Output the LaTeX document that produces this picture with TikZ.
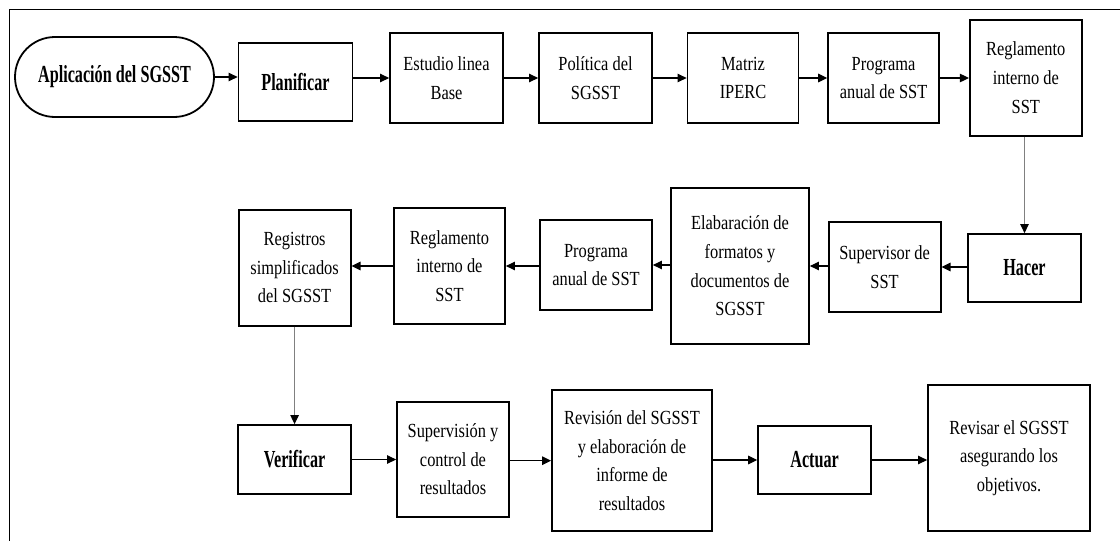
\documentclass[tikz,border=0pt]{standalone}
\usepackage{fontspec}
\setmainfont{Liberation Serif}[FakeStretch=0.82]
\newfontfamily\bcond{Liberation Serif}[FakeStretch=0.66]
\usetikzlibrary{arrows.meta,shapes.misc}
\tikzset{
  box/.style={draw=black, line width=1.8pt, rectangle, inner sep=0pt, align=center,
    font=\fontsize{20}{28.6}\selectfont},
  bbox/.style={box, font=\fontsize{24.5}{30}\selectfont\bcond\bfseries},
  conn/.style={line width=1.1pt, draw=black, -{Triangle[length=9pt,width=8.5pt]}},
  vconn/.style={line width=1.1pt, draw=gray, -{Triangle[length=9pt,width=8.5pt,color=black]}},
  frame/.style={line width=1.5pt, draw=black}
}
\begin{document}
\begin{tikzpicture}[x=1pt,y=-1pt]
\useasboundingbox (0,0) rectangle (1120,541);
\coordinate (f1) at (9.6,541);
\coordinate (f2) at (9.6,9.6);
\coordinate (f3) at (1120,9.6);
\draw[frame] (f1) -- (f2) -- (f3);
% row 1
\node[bbox, rounded rectangle, minimum width=199pt, minimum height=80pt] (app) at (114.5,77) {Aplicación del SGSST};
\node[bbox, minimum width=114pt, minimum height=78pt] (plan) at (295.5,82) {Planificar};
\node[box, minimum width=113pt, minimum height=90pt] (est) at (446.5,78) {Estudio linea\\Base};
\node[box, minimum width=113pt, minimum height=90pt] (pol) at (595.5,78) {Política del\\SGSST};
\node[box, minimum width=111pt, minimum height=90pt] (mat) at (743,78) {Matriz\\IPERC};
\node[box, minimum width=111pt, minimum height=90pt] (prog1) at (883.6,78) {Programa\\anual de SST};
\node[box, minimum width=112pt, minimum height=116pt] (reg1) at (1025.8,77.7) {Reglamento\\interno de\\SST};
% row 2
\node[bbox, minimum width=113pt, minimum height=68pt] (hacer) at (1024.5,268) {Hacer};
\node[box, minimum width=112pt, minimum height=90pt] (sup) at (884.6,267) {Supervisor de\\SST};
\node[box, minimum width=138pt, minimum height=156pt] (elab) at (740,266) {Elabaración de\\formatos y\\documentos de\\SGSST};
\node[box, minimum width=112pt, minimum height=90pt] (prog2) at (596,265) {Programa\\anual de SST};
\node[box, minimum width=111pt, minimum height=116pt] (reg2) at (449.5,266) {Reglamento\\interno de\\SST};
\node[box, minimum width=112pt, minimum height=116pt] (regs) at (294.6,267.6) {Registros\\simplificados\\del SGSST};
% row 3
\node[bbox, minimum width=113pt, minimum height=69pt] (ver) at (294.6,459.5) {Verificar};
\node[box, minimum width=112pt, minimum height=115pt] (supv) at (453,459.5) {Supervisión y\\control de\\resultados};
\node[box, minimum width=160pt, minimum height=141pt] (rev) at (632,460.7) {Revisión del SGSST\\y elaboración de\\informe de\\resultados};
\node[bbox, minimum width=113pt, minimum height=68pt] (act) at (814.6,460) {Actuar};
\node[box, minimum width=162pt, minimum height=146pt] (revs) at (1009,458) {Revisar el SGSST\\asegurando los\\objetivos.};
% connectors row 1
\draw[conn] (app.east) -- (app.east -| plan.west);
\draw[conn] (plan.east |- est.west) -- (est.west);
\draw[conn] (est.east) -- (pol.west);
\draw[conn] (pol.east) -- (mat.west);
\draw[conn] (mat.east) -- (prog1.west);
\draw[conn] (prog1.east) -- (prog1.east -| reg1.west);
\draw[vconn] (reg1.south -| hacer.north) -- (hacer.north);
% row 2
\draw[conn] (hacer.west |- sup.east) -- (sup.east);
\draw[conn] (sup.west |- elab.east) -- (elab.east);
\draw[conn] (elab.west |- prog2.east) -- (prog2.east);
\draw[conn] (prog2.west |- reg2.east) -- (reg2.east);
\draw[conn] (reg2.west) -- (reg2.west -| regs.east);
\draw[vconn] (regs.south) -- (ver.north);
% row 3
\draw[conn] (ver.east) -- (ver.east -| supv.west);
\draw[conn] (supv.east |- rev.west) -- (rev.west);
\draw[conn] (rev.east |- act.west) -- (act.west);
\draw[conn] (act.east) -- (act.east -| revs.west);
\end{tikzpicture}
\end{document}
